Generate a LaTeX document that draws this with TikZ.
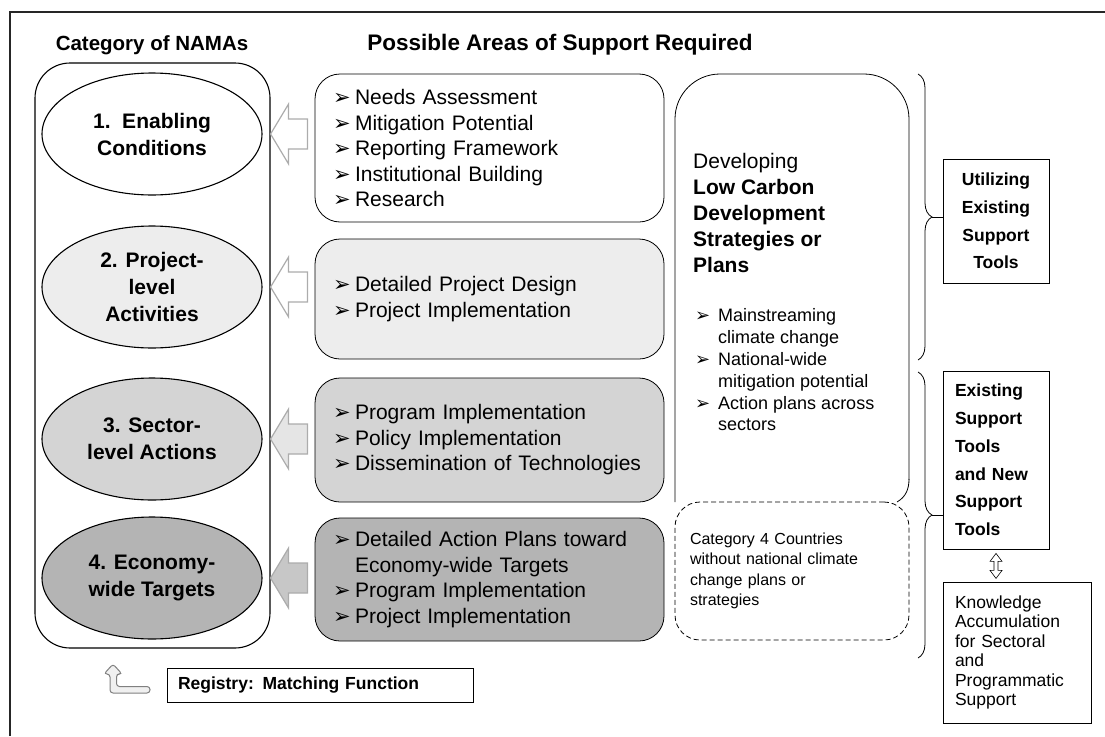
\documentclass[tikz,border=0pt]{standalone}
\usepackage{fontspec}
\setmainfont{Liberation Sans}
\newfontfamily\bulfont{DejaVu Sans}[Scale=1.0]
\usetikzlibrary{positioning}
\usetikzlibrary{calc}
\usetikzlibrary{shapes.geometric}
\usetikzlibrary{decorations.pathreplacing}
\definecolor{lvltwo}{HTML}{EDEDED}
\definecolor{lvlthree}{HTML}{D4D4D4}
\definecolor{lvlfour}{HTML}{B4B4B4}
\newcommand{\itm}{\makebox[1.05em][l]{\bulfont ➢}}
\newcommand{\ind}{\hspace*{1.05em}}
\newcommand{\supparrow}[2]{\draw[blkarr,fill=#2] (#1) -- ++(18,-30) -- ++(0,15) -- ++(19,0) -- ++(0,30) -- ++(-19,0) -- ++(0,15) -- cycle;}

\begin{document}
\begin{tikzpicture}[x=1pt,y=-1pt,
  namas/.style={ellipse,draw,line width=1.1pt,minimum width=220,minimum height=122,inner sep=0,align=center,font=\bfseries\fontsize{21}{27}\selectfont},
  supbox/.style={draw,rounded corners=25,line width=0.8pt,minimum width=349,text width=313,inner xsep=18,inner ysep=0,align=left,font=\fontsize{21}{25.5}\selectfont},
  toolbox/.style={draw,line width=0.8pt,inner ysep=0,font=\bfseries\fontsize{17.5}{27.8}\selectfont},
  blkarr/.style={draw=gray!65,line width=1.2pt,line join=miter},
  brc/.style={decorate,decoration={brace,amplitude=14},line width=0.8pt},
  hd/.style={font=\bfseries\fontsize{20.5}{24}\selectfont}]
\useasboundingbox (0,0) rectangle (1105,736);
\draw[line width=1.5pt,black!85] (10,736) -- (10,12) -- (1105,12); %frame

\node[hd] (cathd) at (152,45) {Category of NAMAs};
\node[hd,font=\bfseries\fontsize{22.5}{26}\selectfont] (suphd) at (560,45) {Possible Areas of Support Required};

\node[draw,line width=1.1pt,rounded corners=35,minimum width=235,minimum height=585] (cat) at (152.5,355.5) {};
\node[namas] (e1) at (152,134) {1.\ \ Enabling\\Conditions};
\node[namas,fill=lvltwo] (e2) at (152,287) {2. Project-\\level\\Activities};
\node[namas,fill=lvlthree] (e3) at (152,439) {3. Sector-\\level Actions};
\node[namas,fill=lvlfour] (e4) at (152,578) {4. Economy-\\wide Targets};

\node[supbox,minimum height=148] (s1) at (489.5,148) {\itm Needs Assessment\\\itm Mitigation Potential\\\itm Reporting Framework\\\itm Institutional Building\\\itm Research};
\node[supbox,minimum height=120,fill=lvltwo] (s2) at (489.5,299) {\itm Detailed Project Design\\\itm Project Implementation};
\node[supbox,minimum height=124,fill=lvlthree] (s3) at (489.5,440) {\itm Program Implementation\\\itm Policy Implementation\\\itm Dissemination of Technologies};
\node[supbox,minimum height=123,fill=lvlfour] (s4) at (489.5,579.5) {\itm Detailed Action Plans toward\\\ind Economy-wide Targets\\\itm Program Implementation\\\itm Project Implementation};

% arrows from support to category
\supparrow{e1.east -| cat.east}{white}
\supparrow{e2.east -| cat.east}{white}
\supparrow{e3.east -| cat.east}{black!10}
\supparrow{e4.east -| cat.east}{black!22}

% low carbon strategies
\draw[line width=0.8pt,rounded corners=45] (675,502) -- (675,74) -- (909,74) -- (909,480);
\draw[line width=0.8pt] (909,479) to[out=-90,in=30] (897,502);
\node[anchor=west,inner sep=0,align=left,font=\fontsize{21}{26}\selectfont] (lcds) at (693,213) {Developing\\\textbf{Low Carbon}\\\textbf{Development}\\\textbf{Strategies or}\\\textbf{Plans}};
\node[anchor=west,inner sep=0,align=left,font=\fontsize{18}{21.8}\selectfont] (lcdl) at (695,370) {\makebox[23pt][l]{\bulfont ➢}Mainstreaming\\\hspace*{23pt}climate change\\\makebox[23pt][l]{\bulfont ➢}National-wide\\\hspace*{23pt}mitigation potential\\\makebox[23pt][l]{\bulfont ➢}Action plans across\\\hspace*{23pt}sectors};
\node[draw,dashed,dash pattern=on 5pt off 3pt,line width=0.8pt,rounded corners=25,minimum width=234,minimum height=138,inner xsep=15,text width=204,align=left,font=\fontsize{16}{20.5}\selectfont] (cat4) at (792,571) {Category 4 Countries\\without national climate\\change plans or\\strategies};

% tools
\node[toolbox,minimum width=106,minimum height=124,align=center] (utl) at (996,221) {Utilizing\\Existing\\Support\\Tools};
\node[toolbox,minimum width=106,minimum height=178,text width=82,inner xsep=12,align=left] (est) at (996,460) {Existing\\Support\\Tools\\and New\\Support\\Tools};
\node[draw,line width=0.8pt,minimum width=148,minimum height=141,text width=124,inner xsep=12,inner ysep=0,align=left,font=\fontsize{17.5}{19.4}\selectfont] (know) at (1017,652.5) {Knowledge\\Accumulation\\for Sectoral\\and\\Programmatic\\Support};

\draw[brc] (918,74) -- (918,360) coordinate[midway,xshift=14] (b1);
\draw[line width=0.8pt] (b1) -- (b1 -| utl.west);
\draw[brc] (918,372) -- (918,658) coordinate[midway,xshift=14] (b2);
\draw[line width=0.8pt] (b2) -- (b2 -| est.west);

% double arrow
\draw[line width=0.6pt] (est.south) ++(0,4) -- ++(6,8) -- ++(-4,0) -- ++(0,9) -- ++(4,0) -- ++(-6,8) -- ++(-6,-8) -- ++(4,0) -- ++(0,-9) -- ++(-4,0) -- cycle;

% registry
\node[draw,line width=0.8pt,minimum width=306,minimum height=34,text width=284,inner xsep=11,inner ysep=0,align=left,font=\bfseries\fontsize{17.5}{20}\selectfont] (reg) at (320,685) {Registry: Matching Function};
\draw[draw=gray,fill=black!6,line width=1pt,rounded corners=3] (113,664) -- (122,674) -- (116.5,674) -- (116.5,686.5) -- (150,686.5) -- (150,693) -- (110,693) -- (110,674) -- (104,674) -- cycle;
\end{tikzpicture}
\end{document}
